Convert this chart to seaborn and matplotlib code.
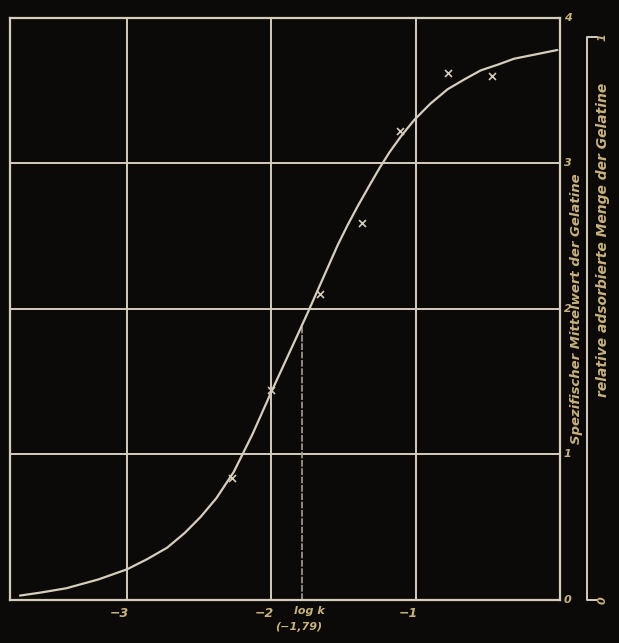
import numpy as np
import pandas as pd
import seaborn as sns
import matplotlib.pyplot as plt

# curve (log c vs. amount)
curve_x = [-3.74, -3.6, -3.42, -3.2, -3.0, -2.86, -2.72, -2.6, -2.49, -2.38,
           -2.26, -2.13, -2.0, -1.87, -1.75, -1.54, -1.47, -1.40, -1.32, -1.25,
           -1.18, -1.10, -1.01, -0.9, -0.78, -0.66, -0.55, -0.43, -0.32, -0.17,
           -0.02]
curve_y = [0.03, 0.05, 0.08, 0.14, 0.21, 0.28, 0.36, 0.46, 0.57, 0.70,
           0.88, 1.14, 1.43, 1.71, 1.97, 2.44, 2.58, 2.71, 2.85, 2.97,
           3.08, 3.19, 3.30, 3.41, 3.51, 3.58, 3.64, 3.68, 3.72, 3.75,
           3.78]

# measured points
obs_x = [-2.27, -2.0, -1.66, -1.37, -1.11, -0.78, -0.47]
obs_y = [0.84, 1.44, 2.10, 2.59, 3.22, 3.62, 3.60]

x_ticks = [-3, -2, -1]
x_labels = ['\u22123', '\u22122', '\u22121']
y_ticks = [0, 1, 2, 3, 4]
log_k = -1.79

bg = '#0b0a08'
ink = '#d6cdbd'
tan = '#c9b27f'

sns.set_style('dark')
plt.rcParams['font.family'] = ['DejaVu Sans']

fig = plt.figure(figsize=(6.19, 6.43), dpi=100, facecolor=bg)
ax = fig.add_axes([0.016, 0.067, 0.889, 0.905])
ax.set_facecolor(bg)

curve = pd.DataFrame({'x': curve_x, 'y': curve_y})
obs = pd.DataFrame({'x': obs_x, 'y': obs_y})

for xv in x_ticks:
    ax.axvline(xv, color=ink, lw=1.4, zorder=1)
for yv in y_ticks[1:-1]:
    ax.axhline(yv, color=ink, lw=1.4, zorder=1)

ax.plot([log_k, log_k], [0, 1.9], color='#a79f92', lw=1.2, ls=(0, (4, 1)), zorder=1)

sns.lineplot(data=curve, x='x', y='y', ax=ax, color=ink, lw=1.6, sort=False, zorder=3,
             solid_joinstyle='round')
sns.scatterplot(data=obs, x='x', y='y', ax=ax, marker='x', s=25, color=ink,
                linewidth=1.2, zorder=4)

ax.set_xlim(-3.81, 0)
ax.set_ylim(0, 4)
ax.set_xticks([])
ax.set_yticks([])
ax.set_xlabel('')
ax.set_ylabel('')
ax.grid(False)
for s in ax.spines.values():
    s.set_visible(True)
    s.set_color(ink)
    s.set_linewidth(1.6)

# x tick labels
for xv, lab in zip(x_ticks, x_labels):
    ax.text(xv - 0.05, -0.05, lab, color=tan, fontsize=9, fontweight='bold',
            ha='center', va='top', style='italic')
ax.text(log_k + 0.05, -0.04, 'log k', color=tan, fontsize=8, fontweight='bold',
        ha='center', va='top', style='italic')
ax.text(log_k - 0.02, -0.15, '(\u22121,79)', color=tan, fontsize=8, fontweight='bold',
        ha='center', va='top', style='italic')

# right-hand scale of the main axis
for yv in y_ticks:
    ax.text(0.025, yv, str(yv), color=tan, fontsize=8, fontweight='bold',
            ha='left', va='center', style='italic')
ax.text(0.115, 2.0, 'Spezifischer Mittelwert der Gelatine', color=tan, fontsize=9.5,
        fontweight='bold', rotation=90, ha='center', va='center', style='italic')

# second bracket scale (relative amount)
ax2 = fig.add_axes([0.948, 0.067, 0.01, 0.876])
ax2.set_facecolor('none')
ax2.set_xlim(0, 1)
ax2.set_ylim(0, 1)
ax2.axis('off')
ax2.plot([1.6, 0, 0, 1.6], [1, 1, 0, 0], color=ink, lw=1.4, clip_on=False)
ax2.text(2.6, 1.0, '1', color=tan, fontsize=8, fontweight='bold', ha='center',
         va='center', style='italic', rotation=90)
ax2.text(2.6, 0.0, '0', color=tan, fontsize=8, fontweight='bold', ha='center',
         va='center', style='italic', rotation=90)
ax2.text(2.6, 0.64, 'relative adsorbierte Menge der Gelatine', color=tan, fontsize=10,
         fontweight='bold', rotation=90, ha='center', va='center', style='italic')

fig.savefig('out.png', dpi=100, facecolor=bg)
